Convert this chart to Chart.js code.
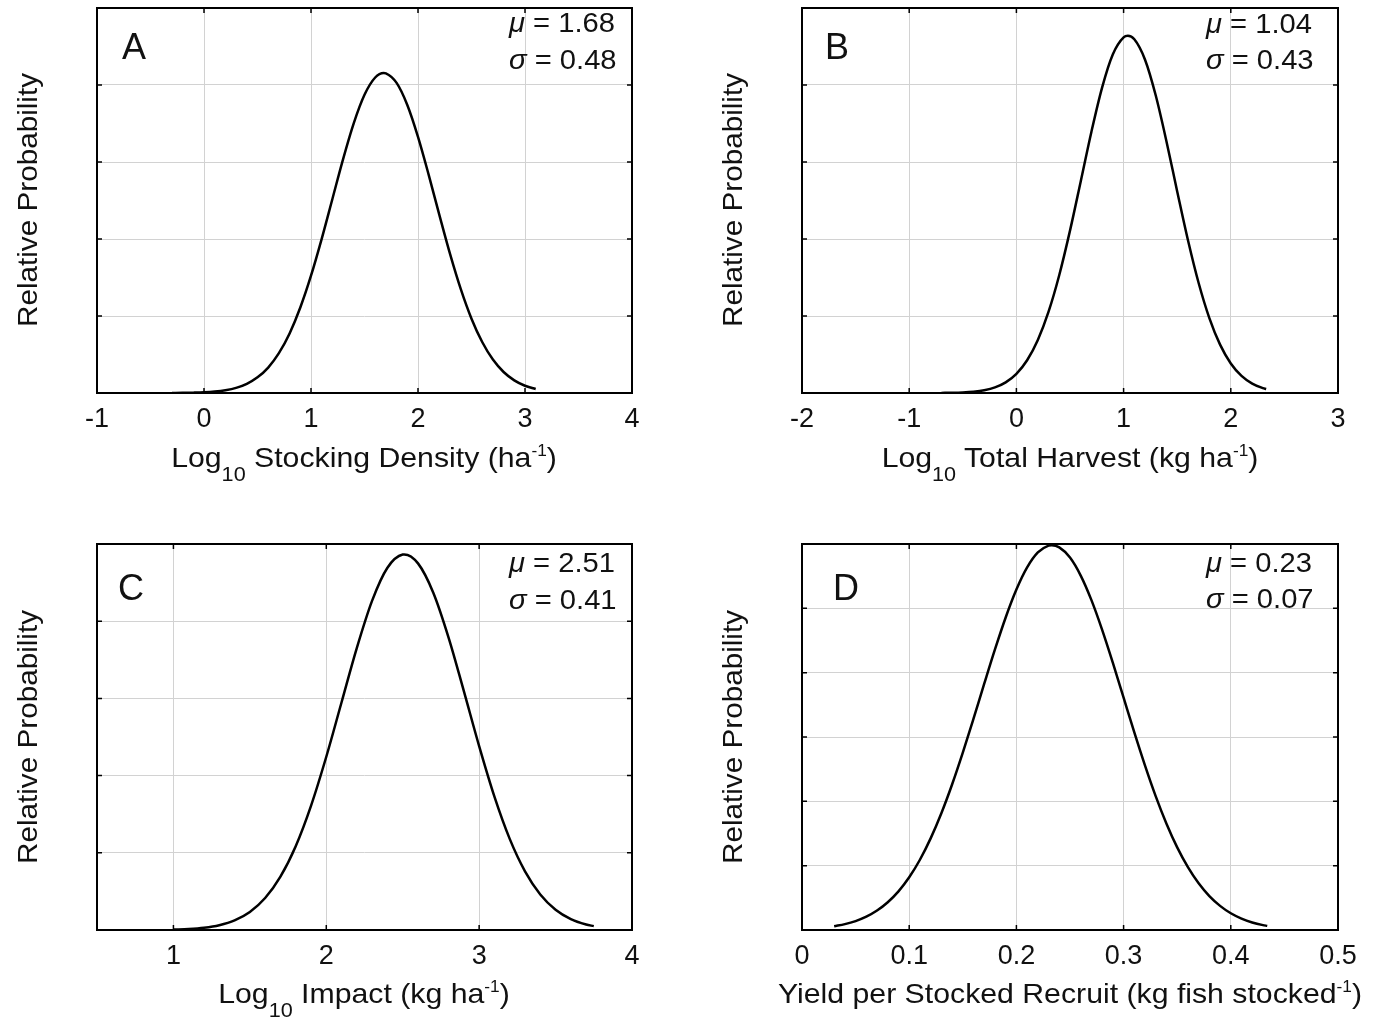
<!DOCTYPE html>
<html><head><meta charset="utf-8">
<script src="https://cdn.jsdelivr.net/npm/chart.js@4.4.1/dist/chart.umd.min.js"></script>
<style>
html,body{margin:0;padding:0;background:#fff;}
#fig{position:relative;width:1374px;height:1018px;overflow:hidden;background:#fff;font-family:'Liberation Sans',Arial,Helvetica,sans-serif;color:#111;}
canvas{position:absolute;}
.t{position:absolute;white-space:nowrap;line-height:1;}
.xt{font-size:28px;transform:translateX(-50%) scaleX(1.08);}
.yt{font-size:28px;transform:translate(-50%,-50%) rotate(-90deg) scaleX(1.06);}
.st{font-size:27px;transform-origin:left center;transform:scaleX(1.08);}
.lt{font-size:36px;}
.sub{position:relative;font-size:20px;top:14px;}
.sup{position:relative;font-size:16px;top:-11px;}
.gk{font-style:italic;}
</style></head><body><div id="fig">
<canvas id="cA" width="687" height="518" style="left:0;top:0"></canvas>
<canvas id="cB" width="687" height="518" style="left:687px;top:0"></canvas>
<canvas id="cC" width="687" height="500" style="left:0;top:518px"></canvas>
<canvas id="cD" width="687" height="500" style="left:687px;top:518px"></canvas>

<div class="t yt" style="left:28px;top:200px">Relative Probability</div>
<div class="t yt" style="left:733px;top:200px">Relative Probability</div>
<div class="t yt" style="left:28px;top:737px">Relative Probability</div>
<div class="t yt" style="left:733px;top:737px">Relative Probability</div>

<div class="t xt" style="left:364px;top:444px">Log<span class="sub">10</span> Stocking Density (ha<span class="sup">-1</span>)</div>
<div class="t xt" style="left:1070px;top:444px">Log<span class="sub">10</span> Total Harvest (kg ha<span class="sup">-1</span>)</div>
<div class="t xt" style="left:364px;top:980px">Log<span class="sub">10</span> Impact (kg ha<span class="sup">-1</span>)</div>
<div class="t xt" style="left:1070px;top:980px">Yield per Stocked Recruit (kg fish stocked<span class="sup">-1</span>)</div>

<div class="t lt" style="left:122px;top:29px">A</div>
<div class="t lt" style="left:825px;top:29px">B</div>
<div class="t lt" style="left:118px;top:570px">C</div>
<div class="t lt" style="left:833px;top:570px">D</div>

<div class="t st" id="muA" style="left:509px;top:10px"></div>
<div class="t st" id="sdA" style="left:509px;top:47px"></div>
<div class="t st" id="muB" style="left:1206px;top:11px"></div>
<div class="t st" id="sdB" style="left:1206px;top:47px"></div>
<div class="t st" id="muC" style="left:509px;top:550px"></div>
<div class="t st" id="sdC" style="left:509px;top:587px"></div>
<div class="t st" id="muD" style="left:1206px;top:550px"></div>
<div class="t st" id="sdD" style="left:1206px;top:586px"></div>
</div>
<script>
// ---------- data ----------
const xA = [-0.3,-0.2,-0.1,0,0.1,0.2,0.3,0.4,0.5,0.6,0.7,0.8,0.9,1.0,1.1,1.2,1.3,1.4,1.5,1.6,1.68,1.7,1.8,1.9,2.0,2.1,2.2,2.3,2.4,2.5,2.6,2.7,2.8,2.9,3.0,3.1];
const yA = [0.0002,0.0004,0.0009,0.0018,0.0037,0.0072,0.0133,0.0238,0.0406,0.0661,0.1034,0.1547,0.2220,0.3046,0.4005,0.5040,0.6075,0.7010,0.7746,0.8195,0.8311,0.8303,0.8054,0.7482,0.6654,0.5667,0.4621,0.3608,0.2698,0.1931,0.1324,0.0869,0.0546,0.0329,0.0189,0.0105];

const xB = [-0.7,-0.6,-0.5,-0.4,-0.3,-0.2,-0.1,0,0.1,0.2,0.3,0.4,0.5,0.6,0.7,0.8,0.9,1.0,1.04,1.1,1.2,1.3,1.4,1.5,1.6,1.7,1.8,1.9,2.0,2.1,2.2,2.3,2.33];
const yB = [0.0003,0.0006,0.0015,0.0034,0.0072,0.0145,0.0276,0.0498,0.0851,0.1377,0.2111,0.3065,0.4217,0.5496,0.6788,0.7940,0.8799,0.9238,0.9278,0.9188,0.8657,0.7727,0.6535,0.5236,0.3974,0.2857,0.1946,0.1256,0.0767,0.0444,0.0244,0.0127,0.0103];

const xC = [1.0,1.1,1.2,1.3,1.4,1.5,1.6,1.7,1.8,1.9,2.0,2.1,2.2,2.3,2.4,2.5,2.51,2.6,2.7,2.8,2.9,3.0,3.1,3.2,3.3,3.4,3.5,3.6,3.7,3.75];
const yC = [0.0011,0.0026,0.0059,0.0125,0.0249,0.0468,0.0829,0.1383,0.2172,0.3217,0.4488,0.5901,0.7311,0.8534,0.9386,0.9727,0.9730,0.9498,0.8739,0.7577,0.6189,0.4764,0.3455,0.2361,0.1521,0.0922,0.0527,0.0284,0.0144,0.0100];

const xD = [0.03,0.04,0.05,0.06,0.07,0.08,0.09,0.10,0.11,0.12,0.13,0.14,0.15,0.16,0.17,0.18,0.19,0.20,0.21,0.22,0.23,0.233,0.24,0.25,0.26,0.27,0.28,0.29,0.30,0.31,0.32,0.33,0.34,0.35,0.36,0.37,0.38,0.39,0.40,0.41,0.42,0.43,0.434];
const yD = [0.058,0.091,0.139,0.207,0.302,0.431,0.600,0.819,1.092,1.424,1.815,2.262,2.757,3.285,3.828,4.361,4.858,5.291,5.635,5.868,5.974,5.980,5.947,5.789,5.509,5.127,4.665,4.151,3.611,3.071,2.555,2.077,1.652,1.284,0.976,0.725,0.527,0.375,0.260,0.177,0.117,0.076,0.064];

const xTicksA = [-1,0,1,2,3,4];        const xTickLabelsA = ['-1','0','1','2','3','4'];
const xTicksB = [-2,-1,0,1,2,3];       const xTickLabelsB = ['-2','-1','0','1','2','3'];
const xTicksC = [1,2,3,4];             const xTickLabelsC = ['1','2','3','4'];
const xTicksD = [0,0.1,0.2,0.3,0.4,0.5]; const xTickLabelsD = ['0','0.1','0.2','0.3','0.4','0.5'];
const yTicksABC = [0,0.2,0.4,0.6,0.8,1];
const yTicksD = [0,1,2,3,4,5,6];

const statsMu = ['1.68','1.04','2.51','0.23'];
const statsSd = ['0.48','0.43','0.41','0.07'];

// ---------- text annotations ----------
['A','B','C','D'].forEach((p,i)=>{
  document.getElementById('mu'+p).innerHTML = '<span class="gk">\u03BC</span> = ' + statsMu[i];
  document.getElementById('sd'+p).innerHTML = '<span class="gk">\u03C3</span> = ' + statsSd[i];
});

// ---------- chart drawing ----------
const FONT = "'Liberation Sans', Arial, Helvetica, sans-serif";
const framePlugin = {
  id: 'frame',
  afterDraw(chart) {
    const ctx = chart.ctx, a = chart.chartArea, xs = chart.scales.x, ys = chart.scales.y;
    const L = 5;
    ctx.save();
    ctx.strokeStyle = '#000';
    ctx.lineWidth = 1.5;
    ctx.beginPath();
    xs.ticks.forEach(t => {
      const px = xs.getPixelForValue(t.value);
      if (px <= a.left + 1 || px >= a.right - 1) return;
      ctx.moveTo(px, a.bottom); ctx.lineTo(px, a.bottom - L);
      ctx.moveTo(px, a.top); ctx.lineTo(px, a.top + L);
    });
    ys.ticks.forEach(t => {
      const py = ys.getPixelForValue(t.value);
      if (py <= a.top + 1 || py >= a.bottom - 1) return;
      ctx.moveTo(a.left, py); ctx.lineTo(a.left + L, py);
      ctx.moveTo(a.right, py); ctx.lineTo(a.right - L, py);
    });
    ctx.stroke();
    ctx.lineWidth = 2;
    ctx.strokeRect(a.left, a.top, a.right - a.left, a.bottom - a.top);
    ctx.restore();
  }
};

function makeChart(id, xs, ys, xTicks, xLabels, xMin, xMax, yTicks, yMax, geo) {
  return new Chart(document.getElementById(id), {
    type: 'scatter',
    data: { datasets: [{
      data: xs.map((x, i) => ({ x: x, y: ys[i] })),
      showLine: true, borderColor: '#000', borderWidth: 2.5,
      pointRadius: 0, cubicInterpolationMode: 'monotone', fill: false
    }] },
    options: {
      responsive: false, animation: false, devicePixelRatio: 1,
      layout: { padding: { left: 0, right: geo.padR, top: geo.padT, bottom: 0 } },
      plugins: { legend: { display: false }, tooltip: { enabled: false } },
      scales: {
        x: {
          type: 'linear', position: 'bottom', min: xMin, max: xMax,
          afterBuildTicks: s => { s.ticks = xTicks.map(v => ({ value: v })); },
          afterFit: s => { s.height = geo.xH; },
          ticks: { callback: (v, i) => xLabels[i], font: { family: FONT, size: 27 }, color: '#111', padding: 10, maxRotation: 0, autoSkip: false },
          grid: { color: '#d2d2d2', lineWidth: 1, drawTicks: false },
          border: { display: false }
        },
        y: {
          type: 'linear', position: 'left', min: 0, max: yMax,
          afterBuildTicks: s => { s.ticks = yTicks.map(v => ({ value: v })); },
          afterFit: s => { s.width = geo.yW; },
          ticks: { display: false },
          grid: { color: '#d2d2d2', lineWidth: 1, drawTicks: false },
          border: { display: false }
        }
      }
    },
    plugins: [framePlugin]
  });
}

makeChart('cA', xA, yA, xTicksA, xTickLabelsA, -1, 4, yTicksABC, 1, { yW: 97, padR: 55, padT: 8, xH: 125 });
makeChart('cB', xB, yB, xTicksB, xTickLabelsB, -2, 3, yTicksABC, 1, { yW: 115, padR: 36, padT: 8, xH: 125 });
makeChart('cC', xC, yC, xTicksC, xTickLabelsC, 0.5, 4, yTicksABC, 1, { yW: 97, padR: 55, padT: 26, xH: 88 });
makeChart('cD', xD, yD, xTicksD, xTickLabelsD, 0, 0.5, yTicksD, 6, { yW: 115, padR: 36, padT: 26, xH: 88 });
</script>
</body></html>
